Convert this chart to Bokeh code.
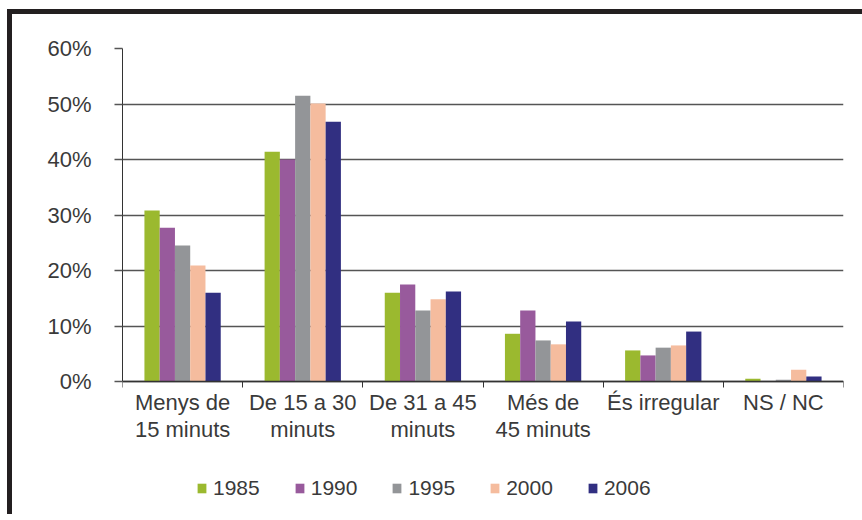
from bokeh.plotting import figure
from bokeh.models import (ColumnDataSource, Range1d, FixedTicker, PrintfTickFormatter,
                          Legend, LegendItem)
from bokeh.transform import dodge
from bokeh.embed import file_html
from bokeh.resources import INLINE

categories = ["Menys de\n15 minuts", "De 15 a 30\nminuts", "De 31 a 45\nminuts",
              "Més de\n45 minuts", "És irregular", "NS / NC"]
years = ["1985", "1990", "1995", "2000", "2006"]
v1985 = [30.8, 41.4, 16.0, 8.6, 5.6, 0.5]
v1990 = [27.7, 40.0, 17.5, 12.8, 4.7, 0.0]
v1995 = [24.5, 51.5, 12.8, 7.4, 6.1, 0.3]
v2000 = [20.9, 50.1, 14.8, 6.7, 6.5, 2.1]
v2006 = [16.0, 46.8, 16.2, 10.8, 9.0, 0.9]
colors = ["#9bb92f", "#985a9c", "#939598", "#f5bc9e", "#312f81"]
y_ticks = [0, 10, 20, 30, 40, 50, 60]

series = [v1985, v1990, v1995, v2000, v2006]
FONT = "Liberation Sans"
TXT = "#3a3a3a"

centers = [i + 0.5 for i in range(len(categories))]
bounds = list(range(len(categories) + 1))

# frame extends below 0 so that the legend can sit inside it
p = figure(width=850, height=500, frame_width=721, frame_height=462,
           x_range=Range1d(0, len(categories)), y_range=Range1d(-23.24, 60),
           output_backend="svg", toolbar_location=None,
           min_border_left=110, min_border_right=19, min_border_top=34, min_border_bottom=4)
p.outline_line_color = None
p.styles = {"border-top": "5px solid #231f20", "border-left": "5px solid #231f20",
            "margin-left": "7px", "margin-top": "9px"}

bw = 0.127
items = []
for j, (yr, vals, col) in enumerate(zip(years, series, colors)):
    src = ColumnDataSource(dict(x=centers, top=vals))
    r = p.vbar(x=dodge("x", (j - 2) * bw, range=p.x_range), top="top", bottom=0, width=bw,
               source=src, fill_color=col, line_color=None)
    items.append(LegendItem(label=yr, renderers=[r]))

# x axis
p.xaxis.fixed_location = 0
p.xaxis.ticker = FixedTicker(ticks=centers, minor_ticks=bounds)
p.xaxis.major_label_overrides = {c: lab for c, lab in zip(centers, categories)}
p.xaxis.major_tick_line_color = None
p.xaxis.major_tick_out = 0
p.xaxis.major_tick_in = 0
p.xaxis.minor_tick_out = 6
p.xaxis.minor_tick_in = 0
p.xaxis.minor_tick_line_color = "#333333"
p.xaxis.axis_line_color = "#333333"
p.xaxis.axis_line_width = 1.3
p.xaxis.major_label_standoff = 2
p.xaxis.major_label_text_font = FONT
p.xaxis.major_label_text_font_size = "22px"
p.xaxis.major_label_text_line_height = 1.1
p.xaxis.major_label_text_color = TXT

# y axis
p.yaxis.bounds = (0, 60)
p.yaxis.ticker = FixedTicker(ticks=y_ticks)
p.yaxis.formatter = PrintfTickFormatter(format="%d%%")
p.yaxis.major_tick_out = 8
p.yaxis.major_tick_in = 0
p.yaxis.major_tick_line_color = "#555555"
p.yaxis.major_tick_line_width = 1.3
p.yaxis.minor_tick_line_color = None
p.yaxis.axis_line_color = "#333333"
p.yaxis.major_label_standoff = 23
p.yaxis.major_label_text_font = FONT
p.yaxis.major_label_text_font_size = "22px"
p.yaxis.major_label_text_color = TXT

p.xgrid.grid_line_color = None
p.ygrid.ticker = FixedTicker(ticks=y_ticks)
p.ygrid.grid_line_color = "#555555"
p.ygrid.grid_line_width = 1.3

legend = Legend(items=items, location=(74, 10), orientation="horizontal",
                glyph_width=11, glyph_height=12, label_standoff=6, spacing=34,
                padding=0, margin=0, border_line_color=None, background_fill_alpha=0,
                label_text_font=FONT, label_text_font_size="21px", label_text_color=TXT)
p.add_layout(legend)

open("out.html", "w").write(file_html(p, INLINE))
